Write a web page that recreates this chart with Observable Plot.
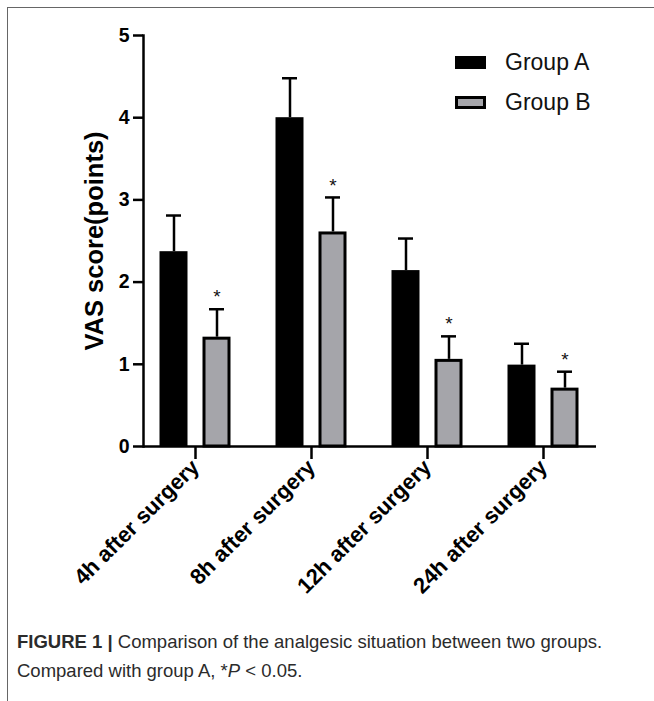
<!DOCTYPE html>
<html>
<head>
<meta charset="utf-8">
<script src="https://cdn.jsdelivr.net/npm/d3@7"></script>
<script src="https://cdn.jsdelivr.net/npm/@observablehq/plot@0.6"></script>
<style>
  html, body { margin: 0; padding: 0; background: #fff; overflow: hidden; width: 654px; height: 701px; }
  #box { position: absolute; left: 7px; top: 7px; width: 900px; height: 900px;
         border-left: 1.5px solid #666; border-top: 1.5px solid #666; }
  #chart { position: absolute; left: 0; top: 0; }
  #chart g[aria-label$="tick"] { stroke-width: 2.5px; }
  #legend { position: absolute; left: 455px; top: 49px; font-family: "Liberation Sans", Arial, sans-serif;
            font-size: 23px; color: #111; }
  .item { display: flex; align-items: center; height: 26px; margin-bottom: 14px; }
  .sw { width: 31px; height: 13px; box-sizing: border-box; margin-right: 19px; }
  #caption { position: absolute; left: 17px; top: 627px; font-family: "Liberation Sans", Arial, sans-serif;
             font-size: 18.5px; line-height: 29px; color: #2b2b2b; white-space: nowrap; }
</style>
</head>
<body>
<div id="box"></div>
<div id="chart"></div>
<div id="legend"></div>
<div id="caption"><b>FIGURE 1 |</b> Comparison of the analgesic situation between two groups.<br>Compared with group A, *<i>P</i> &lt; 0.05.</div>
<script>
// VAS pain scores (mean with +SD error bar) at four time points
const times = ["4h after surgery", "8h after surgery", "12h after surgery", "24h after surgery"];
const groups = ["Group A", "Group B"];
const meanA = [2.37, 4.00, 2.14, 0.99];
const upperA = [2.81, 4.48, 2.53, 1.25];
const meanB = [1.33, 2.61, 1.06, 0.71];
const upperB = [1.67, 3.03, 1.34, 0.91];
const significantB = [true, true, true, true]; // Group B vs Group A, P < 0.05
const yTicks = [0, 1, 2, 3, 4, 5];

const groupFill = {"Group A": "#000000", "Group B": "#a5a5aa"};

const rowsA = times.map((t, i) => ({time: t, group: groups[0], mean: meanA[i], upper: upperA[i]}));
const rowsB = times.map((t, i) => ({time: t, group: groups[1], mean: meanB[i], upper: upperB[i], sig: significantB[i]}));

const offA = -21.5, offB = 21.5;

const chart = Plot.plot({
  width: 654,
  height: 620,
  marginLeft: 143,
  marginRight: 58,
  marginTop: 35,
  marginBottom: 174,
  x: {domain: times, paddingInner: 0.755, paddingOuter: 0.33},
  y: {domain: [0, 5]},
  style: {fontFamily: "'Liberation Sans', Arial, sans-serif", color: "#000", background: "transparent"},
  marks: [
    // error bars (upper SD only)
    Plot.ruleX(rowsA, {x: "time", y1: "mean", y2: "upper", dx: offA, stroke: "#000", strokeWidth: 2.5}),
    Plot.tickY(rowsA, {x: "time", y: "upper", dx: offA, stroke: "#000", strokeWidth: 2.5, insetLeft: 6.5, insetRight: 6.5}),
    Plot.ruleX(rowsB, {x: "time", y1: "mean", y2: "upper", dx: offB, stroke: "#000", strokeWidth: 2.5}),
    Plot.tickY(rowsB, {x: "time", y: "upper", dx: offB, stroke: "#000", strokeWidth: 2.5, insetLeft: 6.5, insetRight: 6.5}),
    // bars
    Plot.barY(rowsA, {x: "time", y: "mean", dx: offA, fill: groupFill["Group A"]}),
    Plot.barY(rowsB, {x: "time", y: "mean", dx: offB, fill: groupFill["Group B"], stroke: "#000", strokeWidth: 3,
                      insetLeft: 1.5, insetRight: 1.5, insetTop: 1.5}),
    // significance markers
    Plot.text(rowsB.filter(d => d.sig), {x: "time", y: "upper", dx: offB, dy: -12, text: () => "*", fontSize: 19, fill: "#111"}),
    // axes
    Plot.frame({anchor: "left", stroke: "#000", strokeWidth: 2.5}),
    Plot.ruleY([0], {stroke: "#000", strokeWidth: 2.5}),
    Plot.axisY({ticks: yTicks, tickFormat: d3.format("d"), tickSize: 10, tickPadding: 4, fontSize: 19.5,
                fontWeight: "bold", strokeWidth: 2.5, label: null}),
    Plot.axisX({tickRotate: -45, tickSize: 13, tickPadding: 4, fontSize: 22, fontWeight: "bold", strokeWidth: 2.5,
                label: null}),
    Plot.text(["VAS score(points)"], {frameAnchor: "left", dx: -49, rotate: -90, fontSize: 25.5, fontWeight: "bold",
                                       textAnchor: "middle", fill: "#000"})
  ]
});
document.getElementById("chart").appendChild(chart);

// legend
const legend = document.getElementById("legend");
groups.forEach(g => {
  const item = document.createElement("div");
  item.className = "item";
  const sw = document.createElement("div");
  sw.className = "sw";
  sw.style.background = groupFill[g];
  if (g === "Group B") sw.style.border = "3px solid #000";
  const label = document.createElement("span");
  label.textContent = g;
  item.appendChild(sw);
  item.appendChild(label);
  legend.appendChild(item);
});
</script>
</body>
</html>
